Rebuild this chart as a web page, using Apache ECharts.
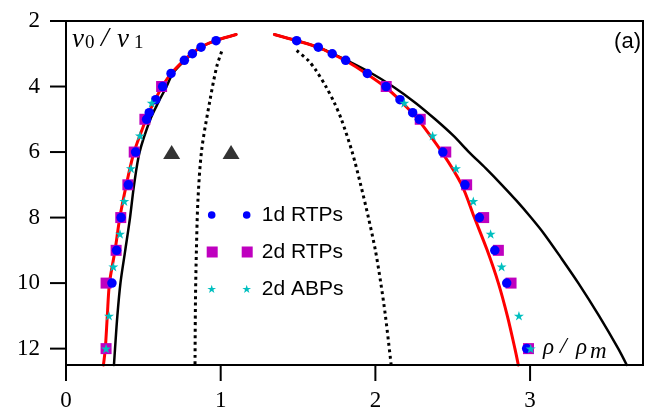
<!DOCTYPE html>
<html><head><meta charset="utf-8">
<script src="https://cdn.jsdelivr.net/npm/echarts@6/dist/echarts.min.js"></script>
<style>html,body{margin:0;padding:0;background:#fff}#c{width:646px;height:413px}</style>
</head><body><div id="c"></div>
<script>
// ---- tick values ----
const xTicks = [0, 1, 2, 3];
const yTicks = [2, 4, 6, 8, 10, 12];

// ---- legend names ----
const seriesNames = ['1d RTPs', '2d RTPs', '2d ABPs'];

// ---- 1d RTPs (blue circles) ----
const circLeftY  = [2.6, 2.8, 3.0, 3.2, 3.6, 4.0, 4.4, 4.8, 5.0, 6, 7, 8, 9, 10];
const circLeftX  = [0.970, 0.873, 0.817, 0.765, 0.679, 0.625, 0.580, 0.538, 0.521, 0.450, 0.403, 0.356, 0.327, 0.297];
const circRightY = [2.6, 2.8, 3.0, 3.2, 3.6, 4.0, 4.4, 4.8, 5.0, 6, 7, 8, 9, 10, 12];
const circRightX = [1.491, 1.631, 1.721, 1.808, 1.948, 2.069, 2.159, 2.241, 2.284, 2.436, 2.579, 2.672, 2.772, 2.849, 2.978];

// ---- 2d RTPs (magenta squares) ----
const sqY      = [4, 5, 6, 7, 8, 9, 10, 12];
const sqLeftX  = [0.618, 0.510, 0.441, 0.400, 0.354, 0.324, 0.259, 0.259];
const sqRightX = [2.070, 2.290, 2.455, 2.590, 2.700, 2.795, 2.877, 2.990];

// ---- 2d ABPs (cyan stars) ----
const starY      = [4.5, 5.5, 6.5, 7.5, 8.5, 9.5, 11, 12];
const starLeftX  = [0.554, 0.478, 0.420, 0.377, 0.349, 0.306, 0.278, 0.259];
const starRightX = [2.187, 2.370, 2.521, 2.633, 2.745, 2.816, 2.928, 3.004];

// ---- red theory curve ----
const redY      = [2.41, 2.6, 2.8, 3.0, 3.2, 3.6, 4.0, 4.4, 4.8, 5.0, 6, 7, 8, 9, 10, 11, 12, 12.5];
const redLeftX  = [1.100, 0.965, 0.870, 0.812, 0.762, 0.680, 0.622, 0.577, 0.535, 0.517, 0.440, 0.390, 0.348, 0.317, 0.281, 0.267, 0.254, 0.242];
const redRightX = [1.347, 1.490, 1.628, 1.718, 1.803, 1.940, 2.060, 2.155, 2.236, 2.276, 2.430, 2.558, 2.640, 2.723, 2.795, 2.853, 2.902, 2.924];

// ---- black solid curve ----
const blackLeftY  = [2.41, 2.6, 2.8, 3.0, 3.2, 3.6, 4.0, 4.5, 5.0, 6, 7, 8, 9, 10, 11, 12, 12.5];
const blackLeftX  = [1.100, 0.967, 0.872, 0.815, 0.768, 0.690, 0.650, 0.595, 0.545, 0.476, 0.440, 0.414, 0.383, 0.352, 0.332, 0.317, 0.310];
const blackRightY = [2.41, 2.6, 2.8, 3.0, 3.2, 3.55, 4.0, 4.5, 5.0, 5.5, 6.0, 6.5, 7.0, 7.5, 8.0, 8.5, 9.2, 10, 11, 12, 12.5];
const blackRightX = [1.347, 1.490, 1.630, 1.726, 1.815, 1.958, 2.113, 2.260, 2.387, 2.504, 2.605, 2.714, 2.817, 2.915, 3.006, 3.091, 3.196, 3.312, 3.446, 3.570, 3.625];

// ---- black dotted curves ----
const dotLeftY  = [2.93, 3.4, 4.41, 5.94, 7.46, 9.0, 10.5, 12.5];
const dotLeftX  = [1.006, 0.974, 0.931, 0.877, 0.853, 0.843, 0.837, 0.834];
const dotRightY = [2.9, 3.2, 3.5, 4.0, 4.5, 5.0, 6.0, 7.0, 8.0, 9.0, 10.0, 11.0, 12.5];
const dotRightX = [1.491, 1.565, 1.615, 1.680, 1.735, 1.780, 1.850, 1.905, 1.955, 2.000, 2.035, 2.065, 2.102];

// ---- triangles ----
const triX = [0.683, 1.067];
const triY = [6, 6];

const zip = (xs, ys) => xs.map((x, i) => [x, ys[i]]);

function starPath(cx, cy, R, r) {
  let s = '';
  for (let k = 0; k < 10; k++) {
    const a = (-90 + k * 36) * Math.PI / 180;
    const rad = k % 2 === 0 ? R : r;
    s += (k === 0 ? 'M' : 'L') + (cx + rad * Math.cos(a)).toFixed(3) + ',' + (cy + rad * Math.sin(a)).toFixed(3) + ' ';
  }
  return s + 'Z';
}
function circlePath(cx, cy, r) {
  return `M${cx - r},${cy} A${r},${r} 0 1 1 ${cx + r},${cy} A${r},${r} 0 1 1 ${cx - r},${cy} Z`;
}
function rectPath(cx, cy, h) {
  return `M${cx - h},${cy - h} L${cx + h},${cy - h} L${cx + h},${cy + h} L${cx - h},${cy + h} Z`;
}
const box = 'M0,0 M51,11 ';
const legCircle = 'path://' + box + circlePath(6, 5.5, 3.8) + ' ' + circlePath(41, 5.5, 3.8);
const legSquare = 'path://' + box + rectPath(6.5, 5.5, 5.5) + ' ' + rectPath(41.5, 5.5, 5.5);
const legStar = 'path://' + box + starPath(6, 5.8, 4.6, 1.76) + ' ' + starPath(41, 5.8, 4.6, 1.76);
const starSymbol = 'path://' + starPath(0, 0, 10, 3.82);

const chart = echarts.init(document.getElementById('c'), null, { renderer: 'canvas' });
const serif = 'Liberation Serif';
const sans = 'Liberation Sans';

// plot frame geometry (pixels)
const CW = 646, CH = 413;
const G = { left: 66, top: 21, right: 3, bottom: 48 };
const W = CW - G.left - G.right;   // 577
const H = CH - G.top - G.bottom;   // 344
const X_MIN = 0, X_MAX = 3.73, Y_MIN = 2, Y_MAX = 12.5;
const TICK = 16;
// the data grid covers the whole canvas; its value range is widened so the
// plot box [X_MIN..X_MAX] x [Y_MIN..Y_MAX] lands on the frame pixels
const kx = W / (X_MAX - X_MIN), ky = H / (Y_MAX - Y_MIN);
const xLo = X_MIN - G.left / kx, xHi = X_MAX + G.right / kx;
const yLo = Y_MIN - G.top / ky, yHi = Y_MAX + G.bottom / ky;
const tickDx = TICK / kx, tickDy = TICK / ky;
// label strips: extents end exactly on the last tick value
const yStripH = H * (yTicks[yTicks.length - 1] - Y_MIN) / (Y_MAX - Y_MIN);
const xStripW = W * xTicks[xTicks.length - 1] / X_MAX;

function lineSeries(xs, ys, color, width, type) {
  return {
    type: 'line', data: zip(xs, ys), showSymbol: false, symbol: 'none',
    smooth: 0.3, silent: true, animation: false, legendHoverLink: false,
    lineStyle: { color: color, width: width, type: type || 'solid', cap: type ? 'butt' : 'round' },
    z: 2
  };
}
function segSeries(points, width, z) {
  return {
    type: 'line', data: points, showSymbol: false, symbol: 'none', smooth: false,
    silent: true, animation: false, legendHoverLink: false, clip: false,
    lineStyle: { color: '#000', width: width, type: 'solid', cap: 'butt', join: 'miter' }, z: z
  };
}
const labelStyle = (m) => ({ show: true, margin: m, color: '#000', fontFamily: serif, fontSize: 23, showMinLabel: true, showMaxLabel: true });
const hiddenAxis = (gi) => ({ gridIndex: gi, type: 'value', min: 0, max: 1, show: false });
const bare = { axisLine: { show: false, onZero: false }, axisTick: { show: false }, splitLine: { show: false } };

// frame and tick marks as line series in data space
const frameSeries = segSeries([[X_MIN, Y_MIN], [X_MAX, Y_MIN], [X_MAX, Y_MAX], [X_MIN, Y_MAX], [X_MIN, Y_MIN]], 2, 6);
const tickSeries = []
  .concat(yTicks.map(v => segSeries([[X_MIN - tickDx, v], [X_MIN, v]], 2, 6)))
  .concat(xTicks.map(v => segSeries([[v, Y_MAX], [v, Y_MAX + tickDy]], 2, 6)));

const option = {
  animation: false,
  backgroundColor: '#fff',
  grid: [
    { left: 0, top: 0, right: 0, bottom: 0, show: false, containLabel: false },
    { left: G.left - TICK, top: G.top, width: TICK, height: yStripH, show: false, containLabel: false },
    { left: G.left, top: G.top + H, width: xStripW, height: TICK, show: false, containLabel: false }
  ],
  xAxis: [
    Object.assign({ gridIndex: 0, type: 'value', min: xLo, max: xHi, axisLabel: { show: false } }, bare),
    hiddenAxis(1),
    Object.assign({ gridIndex: 2, type: 'value', min: xTicks[0], max: xTicks[xTicks.length - 1], interval: 1, position: 'bottom',
      axisLabel: labelStyle(8) }, bare)
  ],
  yAxis: [
    Object.assign({ gridIndex: 0, type: 'value', min: yLo, max: yHi, inverse: true, axisLabel: { show: false } }, bare),
    Object.assign({ gridIndex: 1, type: 'value', min: yTicks[0], max: yTicks[yTicks.length - 1], interval: 2, inverse: true, position: 'left',
      axisLabel: labelStyle(10) }, bare),
    hiddenAxis(2)
  ],
  legend: {
    orient: 'vertical', left: 205.7, top: 203, padding: 0, itemGap: 13,
    itemWidth: 51, itemHeight: 11, selectedMode: false,
    textStyle: { fontFamily: sans, fontSize: 21, color: '#000', lineHeight: 24 },
    data: [
      { name: seriesNames[0], icon: legCircle },
      { name: seriesNames[1], icon: legSquare },
      { name: seriesNames[2], icon: legStar }
    ]
  },
  series: [
    lineSeries(blackLeftX, blackLeftY, '#000', 2.5),
    lineSeries(blackRightX, blackRightY, '#000', 2.5),
    lineSeries(dotLeftX, dotLeftY, '#000', 3, [3, 3.5]),
    lineSeries(dotRightX, dotRightY, '#000', 3, [3, 3.5]),
    lineSeries(redLeftX, redY, '#ff0000', 3),
    lineSeries(redRightX, redY, '#ff0000', 3),
    { type: 'scatter', name: seriesNames[1], data: zip(sqLeftX, sqY).concat(zip(sqRightX, sqY)),
      symbol: 'rect', symbolSize: 11, itemStyle: { color: '#bf00bf', opacity: 1 }, z: 3 },
    { type: 'scatter', name: seriesNames[0], data: zip(circLeftX, circLeftY).concat(zip(circRightX, circRightY)),
      symbol: 'circle', symbolSize: 9.5, itemStyle: { color: '#0000ff', opacity: 1 }, z: 4 },
    { type: 'scatter', name: seriesNames[2], data: zip(starLeftX, starY).concat(zip(starRightX, starY)),
      symbol: starSymbol, symbolSize: 10, symbolKeepAspect: true, itemStyle: { color: '#00bfbf', opacity: 1 }, z: 5 },
    { type: 'scatter', name: 'tri', data: zip(triX, triY), symbol: 'triangle', symbolSize: [17, 14],
      itemStyle: { color: '#000' }, z: 5 },
    frameSeries
  ].concat(tickSeries),
  graphic: [
    { type: 'text', left: 72, top: 26, style: { text: 'v', font: 'italic 27px "Liberation Serif"', fill: '#000' } },
    { type: 'text', left: 85, top: 34, style: { text: '0', font: '19px "Liberation Serif"', fill: '#000' } },
    { type: 'text', left: 101, top: 25, style: { text: '/', font: 'italic 28px "Liberation Serif"', fill: '#000' } },
    { type: 'text', left: 117, top: 26, style: { text: 'v', font: 'italic 27px "Liberation Serif"', fill: '#000' } },
    { type: 'text', left: 134, top: 34, style: { text: '1', font: '19px "Liberation Serif"', fill: '#000' } },
    { type: 'text', right: 5, top: 31, style: { text: '(a)', font: '22px "Liberation Sans"', fill: '#000' } },
    { type: 'text', left: 543, top: 336, style: { text: 'ρ', font: 'italic 23px "Liberation Serif"', fill: '#000' } },
    { type: 'text', left: 560, top: 335, style: { text: '/', font: 'italic 24px "Liberation Serif"', fill: '#000' } },
    { type: 'text', left: 576, top: 336, style: { text: 'ρ', font: 'italic 23px "Liberation Serif"', fill: '#000' } },
    { type: 'text', left: 590, top: 340, style: { text: 'm', font: 'italic 23px "Liberation Serif"', fill: '#000' } }
  ]
};
chart.setOption(option);
</script></body></html>
